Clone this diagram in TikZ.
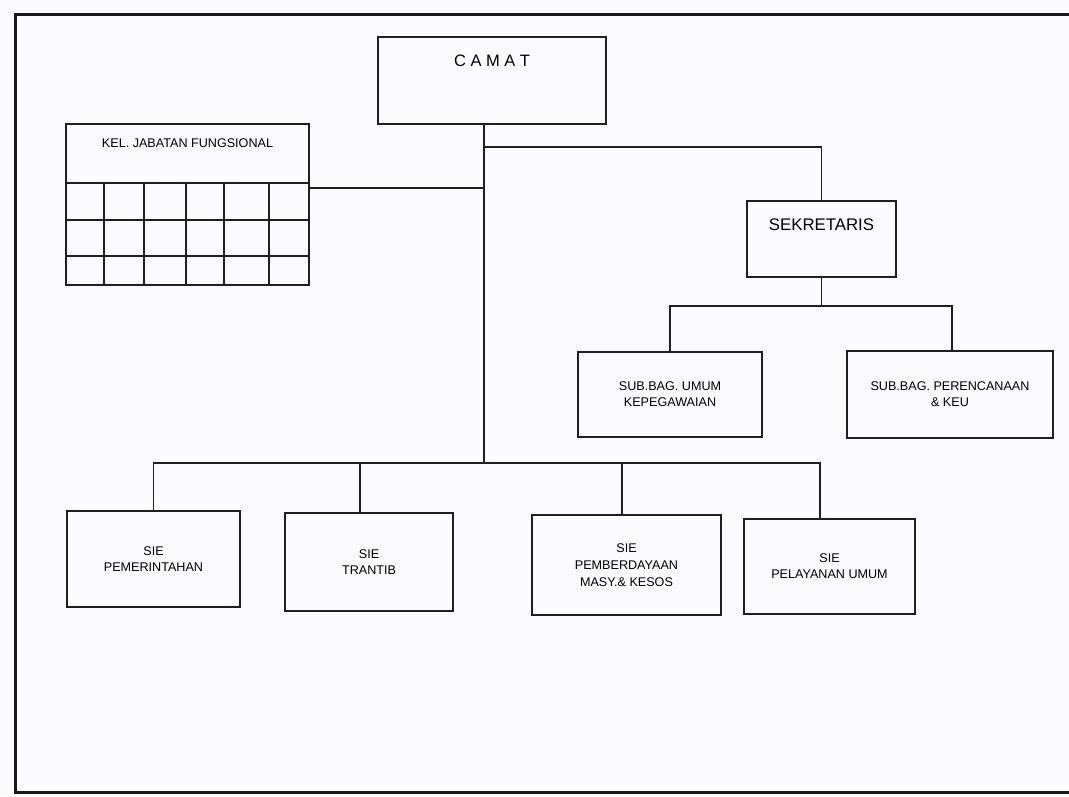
\documentclass[tikz,border=0pt]{standalone}
\usepackage{fontspec}
\setmainfont{Liberation Sans}
\begin{document}
\begin{tikzpicture}[x=1pt,y=-1pt,
  ink/.style={draw=black!88},
  box/.style={ink, line width=2pt, rectangle, inner sep=0pt, outer sep=0pt, anchor=north west, align=center, font=\fontsize{12.6}{16}\selectfont},
  conn/.style={draw=black!88, line width=1.6pt},
  border/.style={draw=black!90, line width=3pt}]
\useasboundingbox (0,0) rectangle (1069,796);
\fill[black!3!blue!2!white] (0,0) rectangle (1069,796);
\draw[border] (1069,14) -- (15,14) -- (15,792) -- (1069,792);

% nodes
\node[box, minimum width=228pt, text height=29pt, text depth=58pt, font=\fontsize{16.5}{18}\selectfont] (camat) at (378,37)
  {C\hspace{4.5pt}A\hspace{4.5pt}M\hspace{4.5pt}A\hspace{4.5pt}T};
\node[box, minimum width=243pt, text height=23pt, text depth=36pt] (kel) at (66,124) {KEL. JABATAN FUNGSIONAL};
\node[box, minimum width=243pt, minimum height=102pt] (grid) at (66,183) {};
\node[box, minimum width=149pt, text height=29pt, text depth=47pt, font=\fontsize{16.8}{18}\selectfont] (sek) at (747,201) {SEKRETARIS};
\node[box, minimum width=184pt, minimum height=85pt] (sub1) at (578,352) {SUB.BAG. UMUM\\KEPEGAWAIAN};
\node[box, minimum width=206pt, minimum height=87pt] (sub2) at (847,351) {SUB.BAG. PERENCANAAN\\\& KEU};
\node[box, minimum width=173pt, minimum height=96pt] (sie1) at (67,511) {SIE\\PEMERINTAHAN};
\node[box, minimum width=168pt, minimum height=98pt] (sie2) at (285,513) {SIE\\TRANTIB};
\node[box, minimum width=189pt, minimum height=100pt, font=\fontsize{12.6}{17}\selectfont] (sie3) at (532,515) {SIE\\PEMBERDAYAAN\\MASY.\& KESOS};
\node[box, minimum width=171pt, minimum height=95pt] (sie4) at (744,519) {SIE\\PELAYANAN UMUM};

% grid cells of the functional group
\foreach \gx in {104,144,186,224,269} \draw[ink, line width=1.8pt] (\gx,183) -- (\gx,285);
\foreach \gy in {220,256} \draw[ink, line width=1.8pt] (66,\gy) -- (309,\gy);

% junctions
\coordinate (jS) at (484,147);
\coordinate (jK) at (484,188);
\coordinate (jB) at (484,463);
\coordinate (jSS) at (821.5,306);
\coordinate (d2) at (360,463);
\coordinate (d3) at (622,463);
\coordinate (d4) at (820,463);

% connectors
\draw[conn] (camat.south -| jB) -- (jB);
\draw[conn] (jS) -| (sek.north);
\draw[conn] (grid.east |- jK) -- (jK);
\draw[conn] (sek.south) -- (jSS);
\draw[conn] (sub1.north) |- (jSS) -| ([xshift=2pt]sub2.north);
\draw[conn] (sie1.north) |- (d4) -- (d4 |- sie4.north);
\draw[conn] (d2) -- (d2 |- sie2.north);
\draw[conn] (d3) -- (d3 |- sie3.north);
\end{tikzpicture}
\end{document}
